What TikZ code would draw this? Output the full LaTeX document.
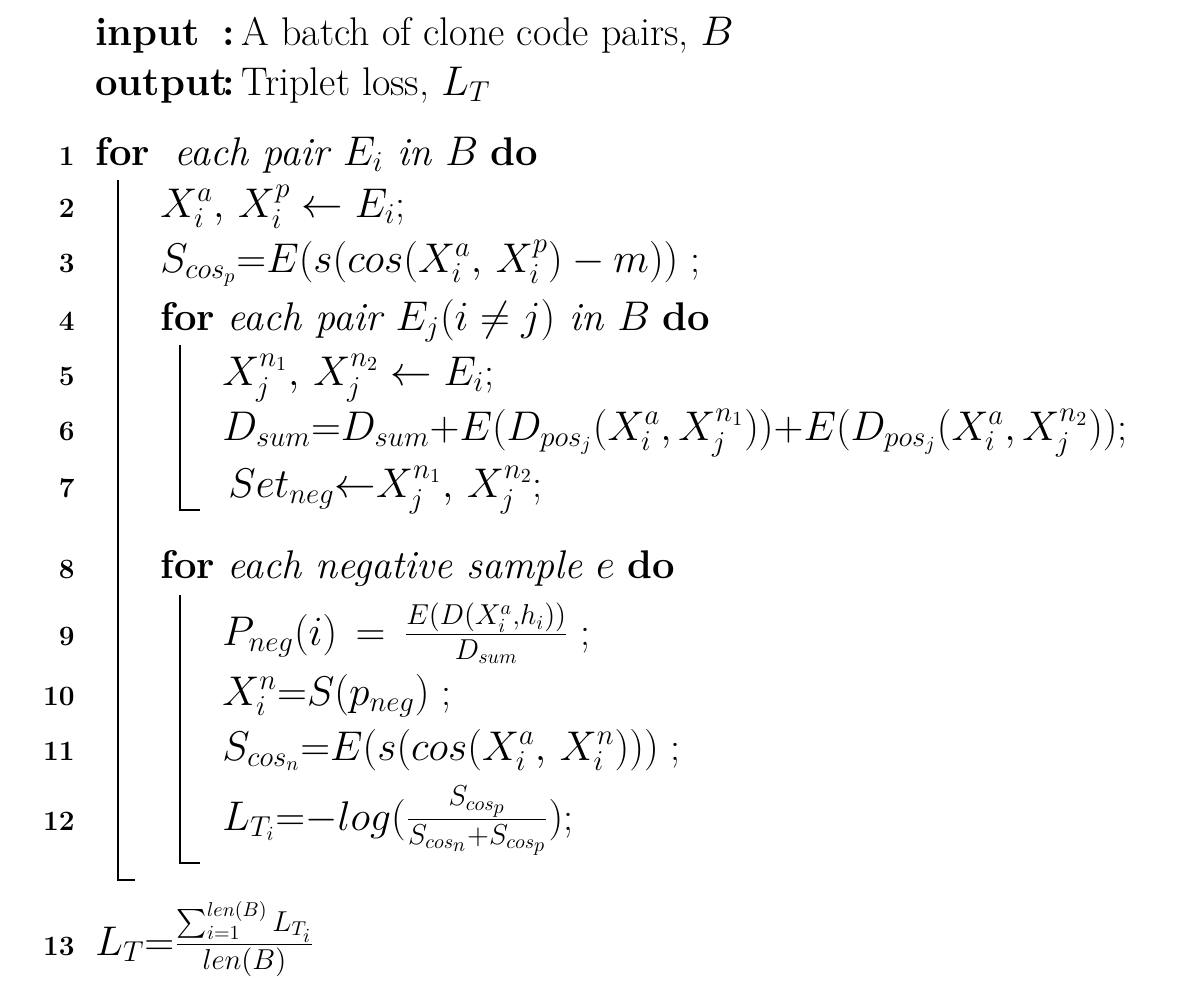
\documentclass[tikz,border=0pt]{standalone}
\usepackage{amsmath}
\begin{document}
\begin{tikzpicture}[x=0.5pt,y=-0.5pt,
  txt/.style={anchor=base west,inner sep=0pt,font=\fontsize{20}{24}\selectfont},
  num/.style={anchor=base east,inner sep=0pt,font=\fontsize{14}{16}\selectfont\bfseries},
  bar/.style={line width=0.7pt}]
\useasboundingbox (0,0) rectangle (1196,997);
\node[txt] (in) at (95,45) {\textbf{input}};
\node[txt] (inc) at (222,45) {\textbf{:}\,A batch of clone code pairs, $B$};
\node[txt] (out) at (95,95) {\textbf{output}};
\node[txt] (outc) at (222,95) {\textbf{:}\,Triplet loss, $L_T$};
\foreach \n/\y in {1/165,2/217,3/272,4/330,5/385,6/440,7/497,8/578,9/645,10/705,11/760,12/830,13/955}
  \node[num] (n\n) at (75,\y) {\n};
\node[txt] (l1) at (95,165) {\textbf{for} \ \textit{each pair $E_i$ in $B$} \textbf{do}};
\node[txt] (l2) at (160,217) {$X_i^a,\,X_i^p \leftarrow E_i$;};
\node[txt] (l3) at (160,272) {$S_{cos_p}{=}E(s(cos(X_i^a,\,X_i^p)-m))$ ;};
\node[txt] (l4) at (160,330) {\textbf{for} \textit{each pair $E_j(i\neq j)$ in $B$} \textbf{do}};
\node[txt] (l5) at (222,385) {$X_j^{n_1},\,X_j^{n_2} \leftarrow E_i$;};
\node[txt] (l6) at (222,440) {$D_{sum}{=}D_{sum}{+}E(D_{pos_j}(X_i^a,X_j^{n_1})){+}E(D_{pos_j}(X_i^a,X_j^{n_2}))$;};
\node[txt] (l7) at (228,497) {$Set_{neg}{\leftarrow}X_j^{n_1},\,X_j^{n_2}$;};
\node[txt] (l8) at (160,578) {\textbf{for} \textit{each negative sample $e$} \textbf{do}};
\node[txt] (l9) at (222,645) {$P_{neg}(i)\,=\,\frac{E(D(X_i^a,h_i))}{D_{sum}}$ ;};
\node[txt] (l10) at (222,705) {$X_i^n{=}S(p_{neg})$ ;};
\node[txt] (l11) at (222,760) {$S_{cos_n}{=}E(s(cos(X_i^a,\,X_i^n)))$ ;};
\node[txt] (l12) at (222,830) {$L_{T_i}{=}{-}log(\frac{S_{cos_p}}{S_{cos_n}+S_{cos_p}})$;};
\node[txt] (l13) at (95,955) {$L_T{=}\frac{\sum_{i=1}^{len(B)}L_{T_i}}{len(B)}$};
\coordinate (a1) at (118,180); \coordinate (a2) at (118,880); \coordinate (a3) at (135,880);
\draw[bar] (a1) -- (a2) -- (a3);
\coordinate (b1) at (180,345); \coordinate (b2) at (180,510); \coordinate (b3) at (200,510);
\draw[bar] (b1) -- (b2) -- (b3);
\coordinate (c1) at (180,595); \coordinate (c2) at (180,863); \coordinate (c3) at (200,863);
\draw[bar] (c1) -- (c2) -- (c3);
\end{tikzpicture}
\end{document}
